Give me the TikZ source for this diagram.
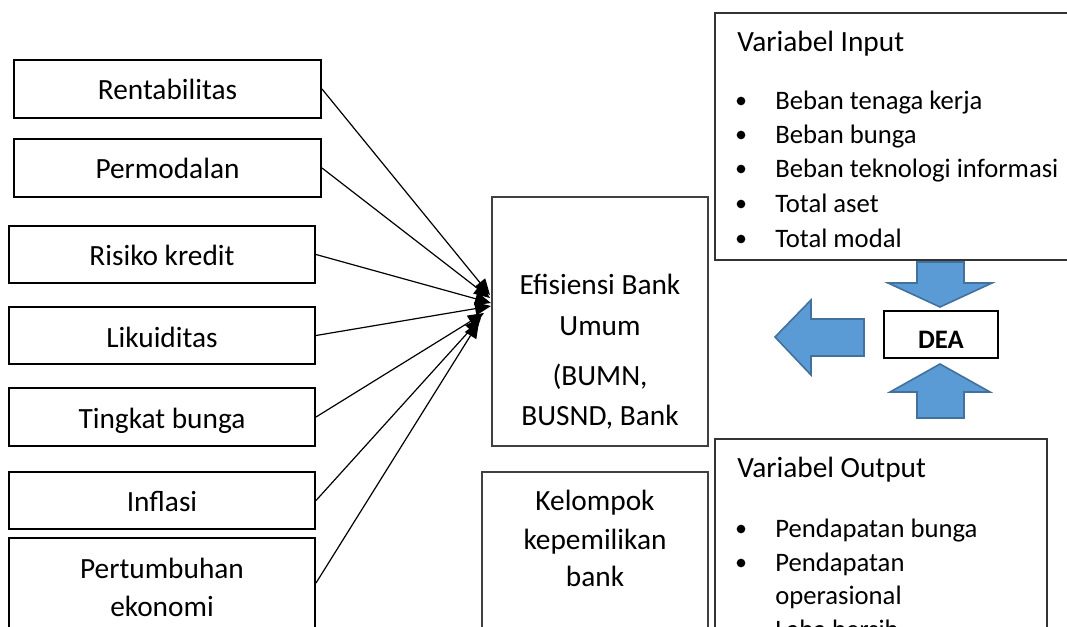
\documentclass[tikz,border=0pt]{standalone}
\usepackage{fontspec}
\setmainfont{Carlito}
\usetikzlibrary{arrows.meta,fit}
\definecolor{arrfill}{HTML}{5B9BD5}
\definecolor{arrline}{HTML}{41719C}
\begin{document}
\begin{tikzpicture}[x=0.75pt,y=-0.75pt,
  txt/.style={font=\fontsize{22}{26}\selectfont, inner sep=0pt},
  itm/.style={font=\fontsize{20}{24}\selectfont, inner sep=0pt, anchor=base west},
  lbox/.style={draw=black, line width=1.5pt, inner sep=0pt},
  cbox/.style={draw=black!75, line width=0.9pt, inner sep=0pt},
  vbox/.style={draw=black!80, line width=1pt, inner sep=0pt},
  conn/.style={line width=0.9pt, -{Triangle[length=12pt,width=10pt]}},
  bluearrow/.style={fill=arrfill, draw=arrline, line width=1.2pt, line join=miter},
  bul/.style={fill=black, circle, inner sep=0pt, minimum size=6.5pt}
]
\useasboundingbox (0,0) rectangle (1067,627);
\clip (0,0) rectangle (1067,627);

% left boxes
\node[lbox, fit={(14,60) (321,118)}] (rent) {};
\node[lbox, fit={(14,139) (321,197)}] (perm) {};
\node[lbox, fit={(9,226) (315,283)}] (risk) {};
\node[lbox, fit={(9,307) (315,364)}] (likuid) {};
\node[lbox, fit={(9,388) (315,446)}] (bunga) {};
\node[lbox, fit={(9,472) (315,529)}] (infl) {};
\node[lbox, fit={(9,538) (315,680)}] (tumbuh) {};

\node[txt, anchor=base] (rentT) at (167.5,100) {Rentabilitas};
\node[txt, anchor=base] (permT) at (167.5,179) {Permodalan};
\node[txt, anchor=base] (riskT) at (162,266) {Risiko kredit};
\node[txt, anchor=base] (likuidT) at (162,347) {Likuiditas};
\node[txt, anchor=base] (bungaT) at (162,428) {Tingkat bunga};
\node[txt, anchor=base] (inflT) at (162,511) {Inflasi};
\node[txt, anchor=base] (tumbuhT1) at (162,578) {Pertumbuhan};
\node[txt, anchor=base] (tumbuhT2) at (162,616) {ekonomi};

% central boxes
\node[cbox, fit={(492,197) (708,446)}] (eff) {};
\node[txt, anchor=base] (effT1) at (600,295) {Efisiensi Bank};
\node[txt, anchor=base] (effT2) at (600,335) {Umum};
\node[txt, anchor=base] (effT3) at (600,385) {(BUMN,};
\node[txt, anchor=base] (effT4) at (600,425) {BUSND, Bank};

\node[cbox, fit={(482,472) (708,680)}] (kel) {};
\node[txt, anchor=base] (kelT1) at (595,510) {Kelompok};
\node[txt, anchor=base] (kelT2) at (595,549) {kepemilikan};
\node[txt, anchor=base] (kelT3) at (595,586) {bank};

% connectors
\coordinate (t1) at (490,295);
\coordinate (t2) at (490,298);
\coordinate (t3) at (491,303);
\coordinate (t4) at (491,306);
\coordinate (t5) at (484,313);
\coordinate (t6) at (481,318);
\coordinate (t7) at (479,322);
\draw[conn] (rent.east) -- (t1);
\draw[conn] (perm.east) -- (t2);
\draw[conn] (risk.east) -- (t3);
\draw[conn] (likuid.east) -- (t4);
\draw[conn] (bunga.east) -- (t5);
\draw[conn] (infl.east) -- (t6);
\draw[conn] (tumbuh.east |- 0,583) -- (t7);

% input box
\node[vbox, fit={(715,13) (1090,260)}] (inbox) {};
\node[txt, anchor=base west] (inT) at (737,52) {Variabel Input};
\node[bul] (ib1) at (741,101) {};
\node[bul] (ib2) at (741,135) {};
\node[bul] (ib3) at (741,169) {};
\node[bul] (ib4) at (741,204) {};
\node[bul] (ib5) at (741,239) {};
\node[itm] (inI1) at (775,110) {Beban tenaga kerja};
\node[itm] (inI2) at (775,144) {Beban bunga};
\node[itm] (inI3) at (775,178) {Beban teknologi informasi};
\node[itm] (inI4) at (775,213) {Total aset};
\node[itm] (inI5) at (775,248) {Total modal};

% output box
\node[vbox, fit={(715,439) (1047,680)}] (outbox) {};
\node[txt, anchor=base west] (outT) at (737,477) {Variabel Output};
\node[bul] (ob1) at (741,529) {};
\node[bul] (ob2) at (741,563) {};
\node[bul] (ob3) at (741,632) {};
\node[itm] (outI1) at (775,537) {Pendapatan bunga};
\node[itm] (outI2) at (775,571) {Pendapatan};
\node[itm] (outI2b) at (775,604) {operasional};
\node[itm] (outI3) at (775,638) {Laba bersih};

% DEA
\node[draw=black, line width=1pt, inner sep=0pt, fit={(884,311) (998,358)}] (dea) {};
\node[font=\fontsize{20}{24}\selectfont\bfseries, inner sep=0pt, anchor=base] (deaT) at (941,348) {DEA};

% blue block arrows
\draw[bluearrow] (917,262) -- (964,262) -- (964,283) -- (992,283) -- (940,307) -- (888,283) -- (917,283) -- cycle;
\draw[bluearrow] (917,418) -- (964,418) -- (964,392) -- (990,392) -- (940,364) -- (890,392) -- (917,392) -- cycle;
\draw[bluearrow] (864,319) -- (864,356) -- (811,356) -- (811,375) -- (775,337) -- (811,300) -- (811,319) -- cycle;
\end{tikzpicture}
\end{document}
